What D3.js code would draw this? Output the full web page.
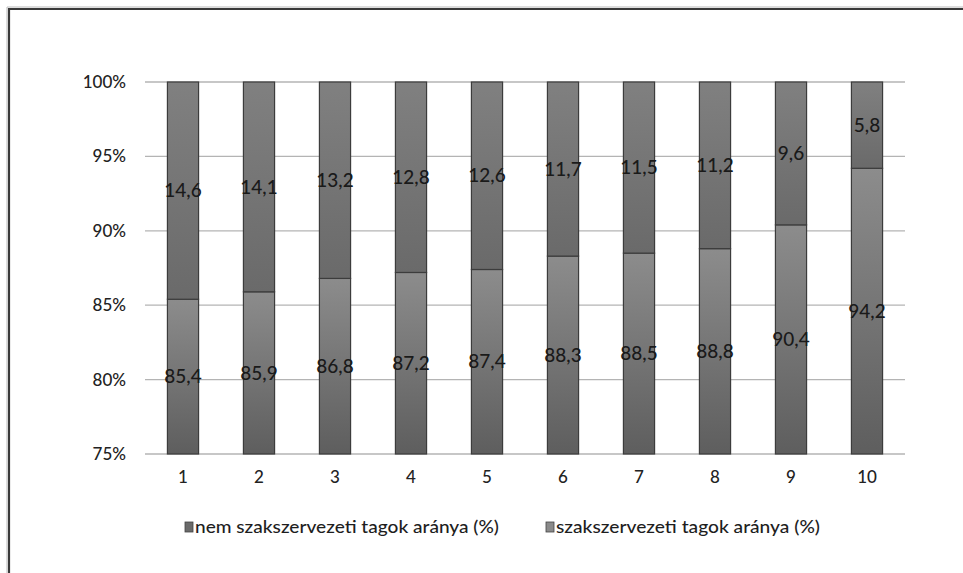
<!DOCTYPE html>
<html><head><meta charset="utf-8">
<script src="https://cdn.jsdelivr.net/npm/d3@7"></script>
<style>
html,body{margin:0;padding:0;background:#fff;}
svg{display:block;}
</style></head>
<body>
<svg id="chart" width="963" height="573"></svg>
<script>
const categories = ["1","2","3","4","5","6","7","8","9","10"];
const nemTagok = [85.4,85.9,86.8,87.2,87.4,88.3,88.5,88.8,90.4,94.2];
const tagok = [14.6,14.1,13.2,12.8,12.6,11.7,11.5,11.2,9.6,5.8];
const yTicks = [75,80,85,90,95,100];
const seriesNames = ["nem szakszervezeti tagok aránya (%)","szakszervezeti tagok aránya (%)"];

const svg = d3.select("#chart");
const font = "Lato, 'Open Sans', sans-serif";

// frame
svg.append("path").attr("d","M9,573 L9,9 L963,9").attr("fill","none").attr("stroke","#3a3a3a").attr("stroke-width",2.2);
svg.append("path").attr("d","M7,573 L7,7 L963,7").attr("fill","none").attr("stroke","#bbb").attr("stroke-width",1);

const defs = svg.append("defs");
const gBot = defs.append("linearGradient").attr("id","gBot").attr("x1",0).attr("y1",0).attr("x2",0).attr("y2",1);
gBot.append("stop").attr("offset","0%").attr("stop-color","#8c8c8c");
gBot.append("stop").attr("offset","100%").attr("stop-color","#5e5e5e");
const gTop = defs.append("linearGradient").attr("id","gTop").attr("x1",0).attr("y1",0).attr("x2",0).attr("y2",1);
gTop.append("stop").attr("offset","0%").attr("stop-color","#808080");
gTop.append("stop").attr("offset","100%").attr("stop-color","#6a6a6a");

const x = d3.scaleBand().domain(categories).range([145,905]).paddingInner(0.59).paddingOuter(0.295);
const y = d3.scaleLinear().domain([75,100]).range([454,82]);

// gridlines
svg.append("g").selectAll("line").data(yTicks).join("line")
  .attr("x1",145).attr("x2",905)
  .attr("y1",d=>y(d)).attr("y2",d=>y(d))
  .attr("stroke","#b4b4b4").attr("stroke-width",1.3);

// y axis labels
const yAxis = d3.axisLeft(y).tickValues(yTicks).tickSize(0).tickPadding(0).tickFormat(d=>d+"%");
const ya = svg.append("g").attr("transform","translate(126,0)").call(yAxis);
ya.select(".domain").remove();
ya.selectAll("text").attr("font-family",font).attr("font-size",17).attr("font-weight",500).attr("fill","#222");

// x axis labels
const xAxis = d3.axisBottom(x).tickSize(0).tickPadding(0);
const xa = svg.append("g").attr("transform","translate(0,471)").call(xAxis);
xa.select(".domain").remove();
xa.selectAll("text").attr("font-family",font).attr("font-size",17).attr("font-weight",500).attr("fill","#222").attr("dy","0.7em");

// bars
const data = categories.map((c,i)=>({c, a:nemTagok[i], b:tagok[i]}));
const bars = svg.append("g");
bars.selectAll("rect.bot").data(data).join("rect").attr("class","bot")
  .attr("x",d=>x(d.c)).attr("width",x.bandwidth())
  .attr("y",d=>y(d.a)).attr("height",d=>y(75)-y(d.a))
  .attr("fill","url(#gBot)").attr("stroke","#3c3c3c").attr("stroke-width",1.2);
bars.selectAll("rect.top").data(data).join("rect").attr("class","top")
  .attr("x",d=>x(d.c)).attr("width",x.bandwidth())
  .attr("y",d=>y(100)).attr("height",d=>y(100-d.b)-y(100))
  .attr("fill","url(#gTop)").attr("stroke","#3c3c3c").attr("stroke-width",1.2);

const fmt = v => v.toFixed(1).replace(".",",");
const labels = svg.append("g").attr("font-family",font).attr("font-size",19).attr("font-weight",500).attr("fill","#1a1a1a").attr("text-anchor","middle");
labels.selectAll("text.bl").data(data).join("text").attr("class","bl")
  .attr("x",d=>x(d.c)+x.bandwidth()/2)
  .attr("y",d=>(y(d.a)+y(75))/2).attr("dy","0.35em").text(d=>fmt(d.a));
labels.selectAll("text.tl").data(data).join("text").attr("class","tl")
  .attr("x",d=>x(d.c)+x.bandwidth()/2)
  .attr("y",d=>(y(100)+y(d.a))/2).attr("dy","0.35em").text(d=>fmt(d.b));

// legend
const legX = [185,546];
const legW = [304,264];
const legCol = ["#6a6a6a","#8a8a8a"];
const leg = svg.append("g");
seriesNames.forEach((n,i)=>{
  leg.append("rect").attr("x",legX[i]).attr("y",522).attr("width",8).attr("height",10)
    .attr("fill",legCol[i]).attr("stroke","#444").attr("stroke-width",0.8);
  leg.append("text").attr("x",legX[i]+10).attr("y",527).attr("dy","0.35em")
    .attr("font-family",font).attr("font-size",18).attr("font-weight",500).attr("fill","#1e1e1e")
    .attr("textLength",legW[i]).attr("lengthAdjust","spacingAndGlyphs").text(n);
});
</script>
</body></html>
